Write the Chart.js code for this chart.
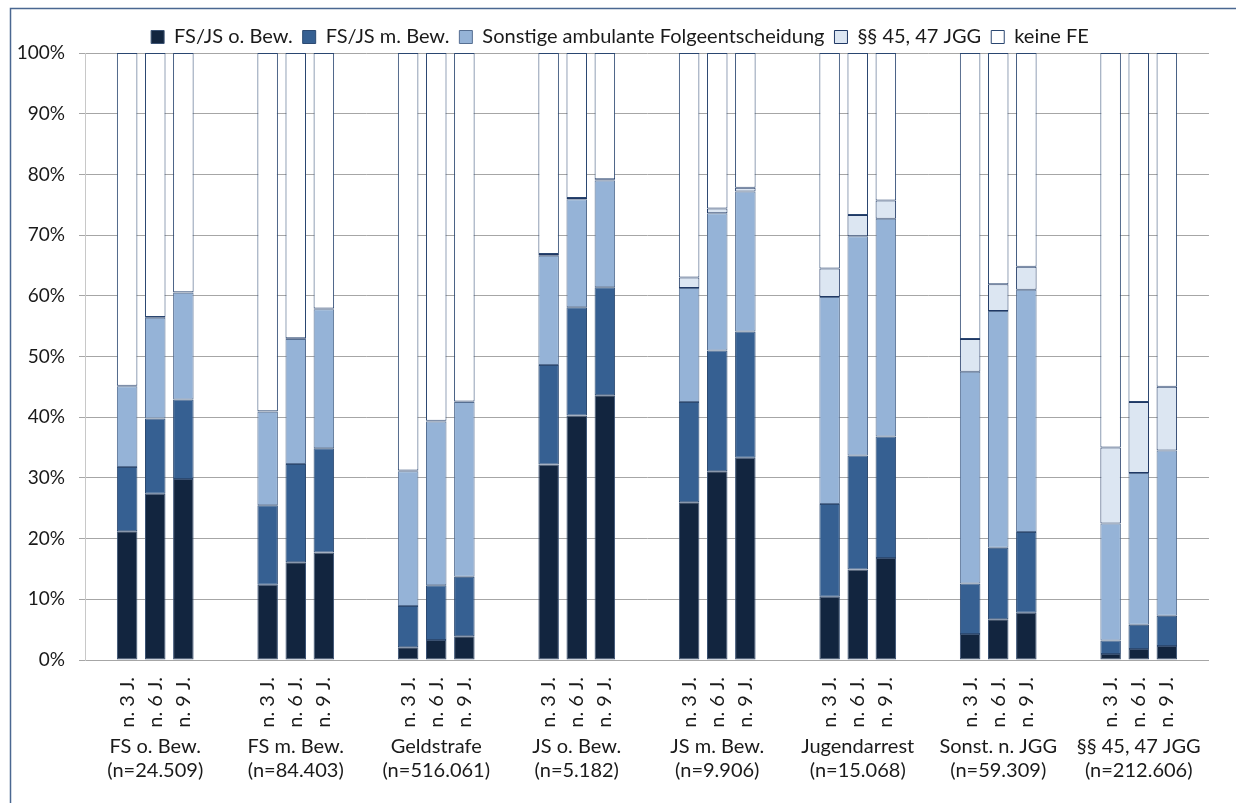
<!DOCTYPE html>
<html>
<head>
<meta charset="utf-8">
<script src="https://cdn.jsdelivr.net/npm/chart.js@4.4.1/dist/chart.umd.min.js"></script>
<style>
  html, body { margin: 0; padding: 0; background: #fff; }
  #wrap { width: 1236px; height: 803px; position: relative; }
</style>
</head>
<body>
<div id="wrap"><canvas id="chart" width="1236" height="803"></canvas></div>
<script>
// Gruppen (Ausgangsentscheidung) und Zeiträume
const groups = ['FS o. Bew.', 'FS m. Bew.', 'Geldstrafe', 'JS o. Bew.', 'JS m. Bew.', 'Jugendarrest', 'Sonst. n. JGG', '§§ 45, 47 JGG'];
const groupN = ['(n=24.509)', '(n=84.403)', '(n=516.061)', '(n=5.182)', '(n=9.906)', '(n=15.068)', '(n=59.309)', '(n=212.606)'];
const periods = ['n. 3 J.', 'n. 6 J.', 'n. 9 J.'];

// Anteile in %, je Gruppe: n. 3 J., n. 6 J., n. 9 J.
const fsjsOhne = [21.2, 27.4, 29.8, 12.4, 16.1, 17.7, 2.1, 3.3, 3.9, 32.2, 40.3, 43.6, 26.0, 31.1, 33.3, 10.4, 14.9, 16.8, 4.3, 6.7, 7.8, 1.0, 1.8, 2.3];
const fsjsMit = [10.6, 12.4, 13.1, 13.1, 16.2, 17.2, 6.8, 9.0, 9.8, 16.4, 17.8, 17.8, 16.5, 19.9, 20.8, 15.3, 18.8, 20.0, 8.3, 11.8, 13.3, 2.2, 4.0, 5.0];
const sonstAmb = [13.3, 16.6, 17.6, 15.4, 20.6, 22.9, 22.2, 27.0, 28.8, 18.0, 17.8, 17.6, 18.8, 22.6, 23.1, 34.1, 36.1, 35.9, 34.9, 39.0, 39.9, 19.3, 25.0, 27.2];
const jgg4547 = [0.1, 0.1, 0.1, 0.1, 0.1, 0.1, 0.1, 0.1, 0.1, 0.3, 0.2, 0.2, 1.7, 0.8, 0.6, 4.7, 3.5, 3.0, 5.4, 4.4, 3.8, 12.5, 11.7, 10.5];
const keineFE = [54.8, 43.5, 39.4, 59.0, 47.0, 42.1, 68.8, 60.6, 57.4, 33.1, 23.9, 20.8, 37.0, 25.6, 22.2, 35.5, 26.7, 24.3, 47.1, 38.1, 35.2, 65.0, 57.5, 55.0];

const yTicks = [0, 10, 20, 30, 40, 50, 60, 70, 80, 90, 100];

// je Gruppe 5 Plätze: Lücke, 3 Balken, Lücke
const slotLabels = [];
const groupLabels = [];
groups.forEach((g, i) => {
  slotLabels.push('', ...periods, '');
  groupLabels.push('', '', [g, groupN[i]], '', '');
});
function spread(vals) {
  const out = [];
  for (let i = 0; i < groups.length; i++) {
    out.push(null, vals[i * 3], vals[i * 3 + 1], vals[i * 3 + 2], null);
  }
  return out;
}

Chart.defaults.font.family = 'Lato, "Noto Sans", sans-serif';
Chart.defaults.font.size = 19;
Chart.defaults.color = '#1a1a1a';

const frame = {
  id: 'frame',
  beforeDraw(chart) {
    const ctx = chart.ctx;
    ctx.save();
    ctx.strokeStyle = '#4a6791';
    ctx.lineWidth = 1.5;
    ctx.beginPath();
    ctx.moveTo(10.5, 900);
    ctx.lineTo(10.5, 8.5);
    ctx.lineTo(1300, 8.5);
    ctx.stroke();
    ctx.restore();
  }
};

const legendShift = {
  id: 'legendShift',
  beforeLayout(chart) {
    const lg = chart.legend;
    if (lg && !lg._shifted) {
      const fit = lg.fit;
      lg.fit = function () { fit.call(this); this.height -= 4; };
      lg._shifted = true;
    }
  }
};

const ds = (label, data, bg, border) => ({
  label: label,
  data: spread(data),
  backgroundColor: bg,
  borderColor: border,
  borderWidth: 1,
  borderSkipped: false,
  barPercentage: 0.73,
  categoryPercentage: 1.0
});

new Chart(document.getElementById('chart'), {
  type: 'bar',
  data: {
    labels: slotLabels,
    datasets: [
      ds('FS/JS o. Bew.', fsjsOhne, '#12253f', '#3b5273'),
      ds('FS/JS m. Bew.', fsjsMit, '#366092', '#2c4a72'),
      ds('Sonstige ambulante Folgeentscheidung', sonstAmb, '#95b3d7', '#566f92'),
      ds('§§ 45, 47 JGG', jgg4547, '#dce6f2', '#1f3864'),
      ds('keine FE', keineFE, '#ffffff', '#2a4670')
    ]
  },
  options: {
    responsive: false,
    animation: false,
    layout: { padding: { left: 10, right: 6, top: 17, bottom: 10 } },
    plugins: {
      legend: {
        position: 'top',
        labels: { boxWidth: 13, boxHeight: 13, padding: 10, color: '#1a1a1a', font: { size: 20 } }
      },
      tooltip: { enabled: false }
    },
    scales: {
      x: {
        stacked: true,
        offset: true,
        grid: { display: false, drawTicks: false },
        border: { display: true, color: '#a6a6a6' },
        ticks: { autoSkip: false, minRotation: 90, maxRotation: 90, padding: 17, font: { size: 20 } },
        afterFit(scale) { scale.height = 72; }
      },
      x2: {
        type: 'category',
        position: 'bottom',
        labels: groupLabels,
        offset: true,
        weight: 1,
        grid: { display: false, drawTicks: false },
        border: { display: false },
        ticks: { autoSkip: false, minRotation: 0, maxRotation: 0, padding: 3, font: { size: 20, lineHeight: 1.2 } },
        afterFit(scale) { scale.height = 61; }
      },
      y: {
        stacked: true,
        min: 0,
        max: 100,
        afterBuildTicks(scale) { scale.ticks = yTicks.map(v => ({ value: v })); },
        grid: { color: '#a6a6a6', tickLength: 6 },
        border: { display: true, color: '#c8c8c8' },
        ticks: { padding: 14, callback: v => v + '%' },
        afterFit(scale) { scale.width = 75; }
      }
    }
  },
  plugins: [frame, legendShift]
});
</script>
</body>
</html>
